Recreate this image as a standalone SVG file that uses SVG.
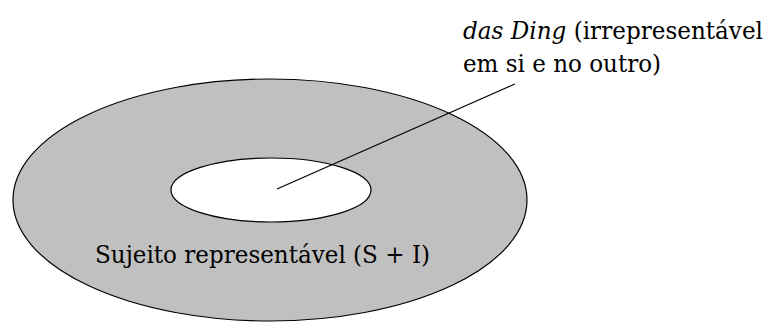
<svg xmlns="http://www.w3.org/2000/svg" width="774" height="322" viewBox="0 0 774 322">
<style>
text{font-family:'DejaVu Serif','Liberation Serif',serif;font-size:25px;fill:#000}
.shape{stroke:#000;stroke-width:1.2}
</style>
<rect width="774" height="322" fill="#fff"/>
<g id="sujeito">
<ellipse class="shape" cx="270" cy="200" rx="257" ry="121" fill="#c0c0c0"/>
<text x="95" y="263" textLength="335" lengthAdjust="spacingAndGlyphs">Sujeito representável (S + I)</text>
</g>
<g id="das-ding">
<ellipse class="shape" cx="271" cy="190" rx="100" ry="32" fill="#fff"/>
</g>
<g id="connectors">
<line x1="277" y1="189" x2="515" y2="84" stroke="#000" stroke-width="1.2"/>
</g>
<g id="das-ding-label">
<text x="463" y="39" textLength="300" lengthAdjust="spacingAndGlyphs"><tspan font-style="italic">das Ding</tspan> (irrepresentável</text>
<text x="463" y="72" textLength="198" lengthAdjust="spacingAndGlyphs">em si e no outro)</text>
</g>
</svg>
